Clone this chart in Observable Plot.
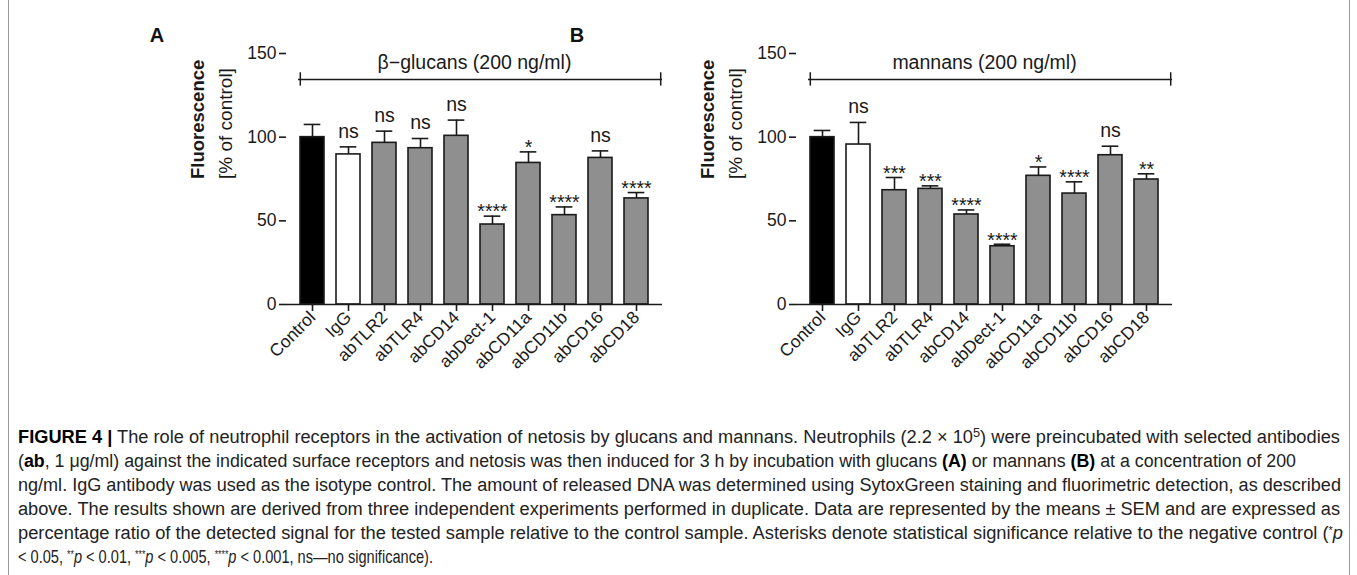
<!DOCTYPE html>
<html>
<head>
<meta charset="utf-8">
<script src="https://cdn.jsdelivr.net/npm/d3@7"></script>
<script src="https://cdn.jsdelivr.net/npm/@observablehq/plot@0.6"></script>
<style>
  html, body { margin: 0; padding: 0; background: #fff; }
  #page { position: relative; width: 1357px; height: 575px; overflow: hidden; background: #fff;
          font-family: "Liberation Sans", Arial, Helvetica, sans-serif; color: #111; }
  .panel { position: absolute; top: 10px; width: 550px; height: 400px; }
  .panel svg, .panel svg text { font-family: "Liberation Sans", Arial, Helvetica, sans-serif !important; }
  .letter { position: absolute; font-weight: bold; font-size: 20px; transform: translate(-50%, -50%); }
  .edge { position: absolute; top: 0; bottom: 0; width: 0; border-left: 1.5px solid #9a9a9a; }
  #caption { position: absolute; left: 18px; top: 425px; color: #222; font-size: 18px;
             font-family: "Liberation Sans", Arial, Helvetica, sans-serif; }
  #caption .line { height: 24px; line-height: 24px; white-space: nowrap; }
  #caption .txt { display: inline-block; transform-origin: 0 50%; }
  #caption b { color: #000; }
  #caption .ast { font-size: 0.6em; position: relative; top: -0.5em; line-height: 0; }
  #caption .sup { font-size: 0.7em; position: relative; top: -0.45em; line-height: 0; }
</style>
</head>
<body>
<div id="page">
  <div class="edge" style="left:8px"></div>
  <div class="edge" style="left:1349px"></div>
  <div class="letter" style="left:157px;top:35px">A</div>
  <div class="letter" style="left:577px;top:35px">B</div>
  <div id="panelA" class="panel" style="left:130px"></div>
  <div id="panelB" class="panel" style="left:640px"></div>
  <div id="caption">
    <div class="line" data-w="1322"><span class="txt"><b>FIGURE 4 |</b> The role of neutrophil receptors in the activation of netosis by glucans and mannans. Neutrophils (2.2 × 10<span class="sup">5</span>) were preincubated with selected antibodies</span></div>
    <div class="line" data-w="1278"><span class="txt">(<b>ab</b>, 1 μg/ml) against the indicated surface receptors and netosis was then induced for 3 h by incubation with glucans <b>(A)</b> or mannans <b>(B)</b> at a concentration of 200</span></div>
    <div class="line" data-w="1323"><span class="txt">ng/ml. IgG antibody was used as the isotype control. The amount of released DNA was determined using SytoxGreen staining and fluorimetric detection, as described</span></div>
    <div class="line" data-w="1322"><span class="txt">above. The results shown are derived from three independent experiments performed in duplicate. Data are represented by the means ± SEM and are expressed as</span></div>
    <div class="line" data-w="1325"><span class="txt">percentage ratio of the detected signal for the tested sample relative to the control sample. Asterisks denote statistical significance relative to the negative control (<span class="ast">*</span><i>p</i></span></div>
    <div class="line" data-w="415"><span class="txt">&lt; 0.05, <span class="ast">**</span><i>p</i> &lt; 0.01, <span class="ast">***</span><i>p</i> &lt; 0.005, <span class="ast">****</span><i>p</i> &lt; 0.001, ns—no significance).</span></div>
  </div>
</div>
<script>
// Treatments (x categories), shared by both panels
const categories = ["Control", "IgG", "abTLR2", "abTLR4", "abCD14", "abDect-1", "abCD11a", "abCD11b", "abCD16", "abCD18"];

// Panel A: β-glucans — mean fluorescence (% of control), SEM and significance
const glucanMean = [100, 89.7, 96.6, 93.4, 100.8, 47.8, 84.6, 53.4, 87.6, 63.4];
const glucanSem  = [7.6, 4.5, 7.0, 5.8, 9.4, 5.0, 6.6, 4.9, 4.2, 3.5];
const glucanSig  = ["", "ns", "ns", "ns", "ns", "****", "*", "****", "ns", "****"];

// Panel B: mannans
const mannanMean = [100, 95.6, 68.3, 69.1, 53.8, 34.8, 76.9, 66.3, 89.2, 74.7];
const mannanSem  = [4.0, 13.2, 7.6, 1.8, 2.7, 1.2, 5.3, 7.0, 5.4, 3.4];
const mannanSig  = ["", "ns", "***", "***", "****", "****", "*", "****", "ns", "**"];

// Axis ticks and labels
const yTicks = [0, 50, 100, 150];
const yLabelMain = "Fluorescence";
const yLabelSub = "[% of control]";

const FONT = "Liberation Sans, Arial, Helvetica, sans-serif";

function barFill(d) {
  if (d.category === "Control") return "#000";
  if (d.category === "IgG") return "#fff";
  return "#8f8f8f";
}

function panel(means, sems, sigs, title) {
  const rows = categories.map((c, i) => ({
    category: c, mean: means[i], sem: sems[i], top: means[i] + sems[i], sig: sigs[i]
  }));
  const W = 550, H = 400, mL = 156, mR = 18, mT = 43, mB = 106;
  const pad = 0.33;
  const step = (W - mL - mR) / (categories.length - pad + 2 * pad);
  const bw = step * (1 - pad);
  const capInset = (bw - 17) / 2;
  const bracket = 134.5;
  const ink = "#1a1a1a";
  return Plot.plot({
    width: W, height: H,
    marginLeft: mL, marginRight: mR, marginTop: mT, marginBottom: mB,
    style: {background: "transparent", overflow: "visible", fontFamily: FONT, color: ink},
    x: {domain: categories, padding: pad, label: null},
    y: {domain: [0, 150], label: null},
    marks: [
      Plot.barY(rows, {x: "category", y: "mean", fill: barFill, stroke: ink, strokeWidth: 1.6}),
      Plot.ruleX(rows, {x: "category", y1: "mean", y2: "top", stroke: ink, strokeWidth: 1.6}),
      Plot.tickY(rows, {x: "category", y: "top", stroke: ink, strokeWidth: 1.6,
                        insetLeft: capInset, insetRight: capInset}),
      Plot.text(rows.filter(d => d.sig === "ns"),
                {x: "category", y: "top", text: "sig", fontSize: 19.5, dy: -15.5, fill: ink, fontFamily: FONT}),
      Plot.text(rows.filter(d => d.sig.startsWith("*")),
                {x: "category", y: "top", text: "sig", fontSize: 19.5, dy: -4, fill: ink, fontFamily: FONT}),
      // treatment bracket with its title
      Plot.ruleY([bracket], {y: d => d, insetLeft: pad * step, stroke: ink, strokeWidth: 1.5}),
      Plot.ruleX([categories[0]], {x: d => d, y1: bracket - 4, y2: bracket + 4,
                                   dx: -bw / 2, stroke: ink, strokeWidth: 1.5}),
      Plot.ruleX([categories[categories.length - 1]], {x: d => d, y1: bracket - 4, y2: bracket + 4,
                                   dx: bw / 2 + pad * step, stroke: ink, strokeWidth: 1.5}),
      Plot.text([title], {frameAnchor: "top", lineAnchor: "middle", dy: 9, fontSize: 19.5,
                          fill: ink, fontFamily: FONT}),
      // y-axis titles
      Plot.text([yLabelMain], {frameAnchor: "left", rotate: -90, dx: -88, fontSize: 18.5,
                               fontWeight: "bold", fill: ink, fontFamily: FONT}),
      Plot.text([yLabelSub], {frameAnchor: "left", rotate: -90, dx: -61, fontSize: 19, fill: ink, fontFamily: FONT}),
      // axes
      Plot.axisY({ticks: yTicks, tickSize: 7, tickPadding: 3, fontSize: 17.5, strokeWidth: 1.6,
                  label: null, line: true, fontFamily: FONT}),
      Plot.axisX({tickRotate: -45, tickSize: 7, tickPadding: 3, fontSize: 17.5, strokeWidth: 1.6,
                  label: null, fontFamily: FONT}),
      Plot.ruleY([0], {stroke: ink, strokeWidth: 1.6})
    ]
  });
}

document.getElementById("panelA").append(panel(glucanMean, glucanSem, glucanSig, "β−glucans (200 ng/ml)"));
document.getElementById("panelB").append(panel(mannanMean, mannanSem, mannanSig, "mannans (200 ng/ml)"));

// Condense each caption line horizontally to its column width
document.querySelectorAll("#caption .line").forEach(line => {
  const span = line.querySelector(".txt");
  const natural = span.getBoundingClientRect().width;
  const sx = +line.dataset.w / natural;
  span.style.transform = `scaleX(${sx.toFixed(4)})`;
});
</script>
</body>
</html>
